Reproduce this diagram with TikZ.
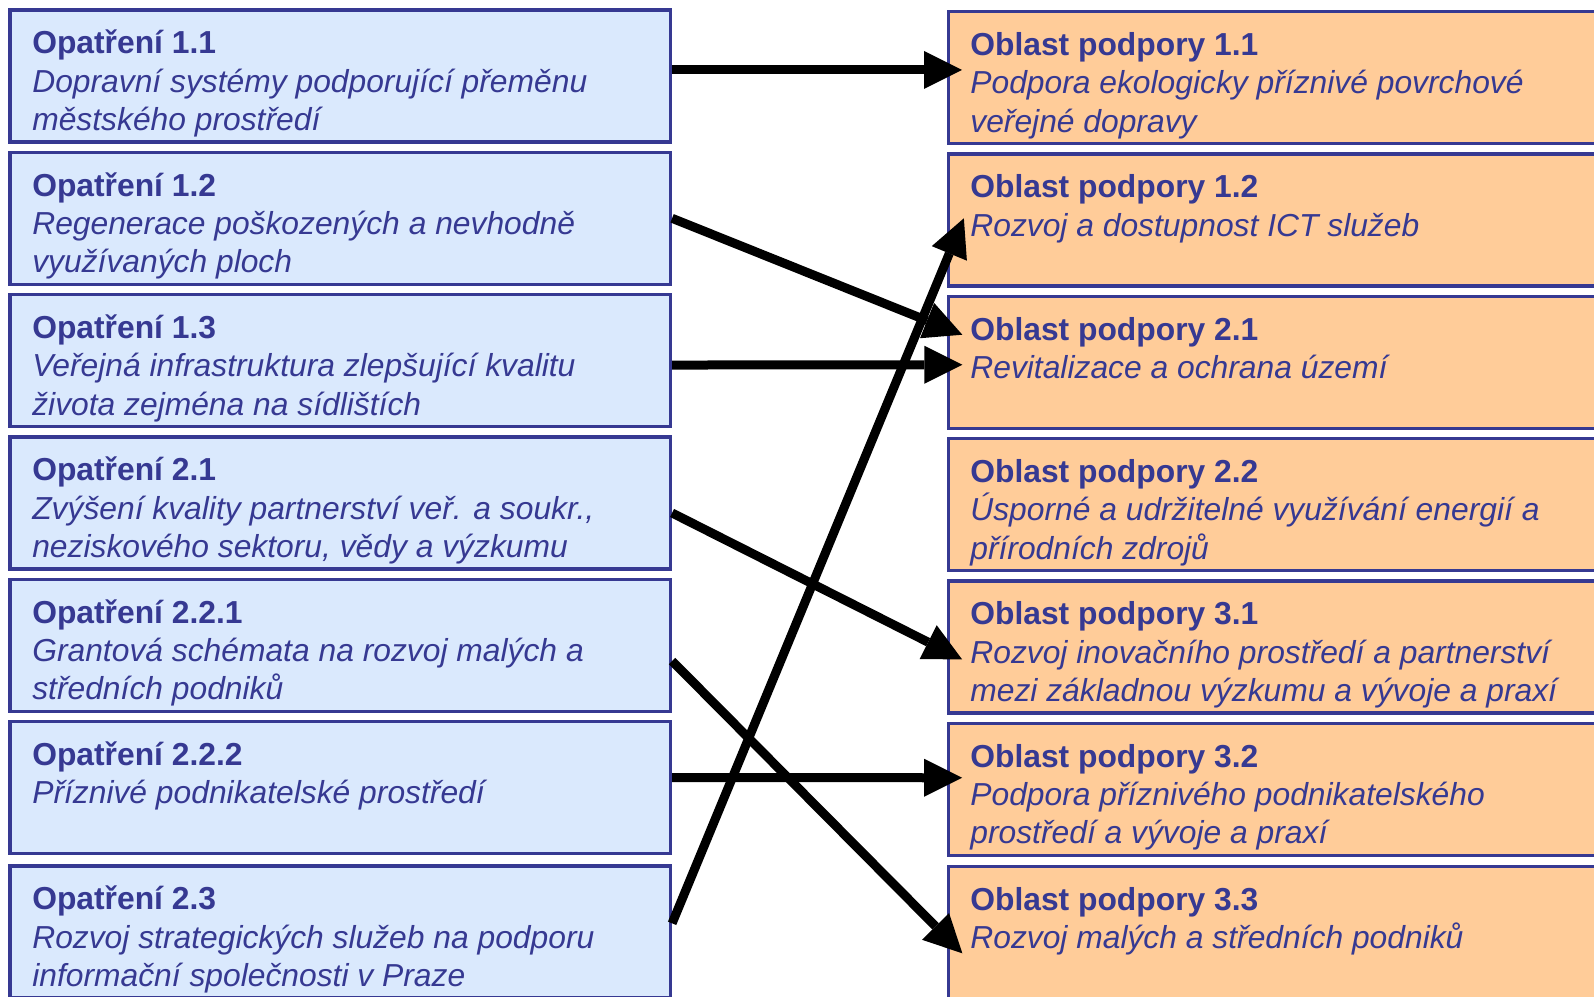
\documentclass[tikz,border=0pt]{standalone}
\usepackage{fontspec}
\setmainfont{Liberation Sans}
\usetikzlibrary{arrows.meta,calc}
\definecolor{ink}{HTML}{363992}
\definecolor{lfill}{HTML}{DAE9FD}
\definecolor{rfill}{HTML}{FFCC99}
\newcommand\bxtext[3]{\parbox[c][132pt][t]{660.6pt}{\fontsize{31.8}{38.3}\selectfont\raggedright\leftskip=22.3pt\relax
\rule{0pt}{43.8pt}\textbf{#1}\\\textit{#2}#3}}
\newcommand\bxr[3]{\parbox[c][132pt][t]{700pt}{\fontsize{31.8}{38.3}\selectfont\raggedright\leftskip=22pt\relax
\rule{0pt}{43.8pt}\textbf{#1}\\\textit{#2}#3}}
\tikzset{
  lbox/.style={draw=ink, fill=lfill, line width=3.3pt, inner sep=0pt, outer sep=0pt, anchor=north west, text=ink},
  rbox/.style={draw=ink, fill=rfill, line width=3.3pt, inner sep=0pt, outer sep=0pt, anchor=north west, text=ink},
  arr/.style={draw=black, line width=9pt, -{Triangle[length=38pt,width=38pt,line width=0pt]}}
}
\begin{document}
\begin{tikzpicture}[x=1pt,y=-1pt]
\path[use as bounding box] (0,0) rectangle (1594,996);
\clip (0,0) rectangle (1594,996);
% left column
\node[lbox] (l1) at (10,9.95) {\bxtext{Opatření 1.1}{Dopravní systémy podporující přeměnu}{\\\textit{městského prostředí}}};
\node[lbox] (l2) at (10,152.29) {\bxtext{Opatření 1.2}{Regenerace poškozených a nevhodně}{\\\textit{využívaných ploch}}};
\node[lbox] (l3) at (10,294.63) {\bxtext{Opatření 1.3}{Veřejná infrastruktura zlepšující kvalitu}{\\\textit{života zejména na sídlištích}}};
\node[lbox] (l4) at (10,436.97) {\bxtext{Opatření 2.1}{Zvýšení kvality partnerství veř. a soukr.,}{\\\textit{neziskového sektoru, vědy a výzkumu}}};
\node[lbox] (l5) at (10,579.31) {\bxtext{Opatření 2.2.1}{Grantová schémata na rozvoj malých a}{\\\textit{středních podniků}}};
\node[lbox] (l6) at (10,721.65) {\bxtext{Opatření 2.2.2}{Příznivé podnikatelské prostředí}{}};
\node[lbox] (l7) at (10,866) {\bxtext{Opatření 2.3}{Rozvoj strategických služeb na podporu}{\\\textit{informační společnosti v Praze}}};
% right column
\node[rbox] (r1) at (948.35,11.65) {\bxr{Oblast podpory 1.1}{Podpora ekologicky příznivé povrchové}{\\\textit{veřejné dopravy}}};
\node[rbox] (r2) at (948.35,153.99) {\bxr{Oblast podpory 1.2}{Rozvoj a dostupnost ICT služeb}{}};
\node[rbox] (r3) at (948.35,296.33) {\bxr{Oblast podpory 2.1}{Revitalizace a ochrana území}{}};
\node[rbox] (r4) at (948.35,438.67) {\bxr{Oblast podpory 2.2}{Úsporné a udržitelné využívání energií a}{\\\textit{přírodních zdrojů}}};
\node[rbox] (r5) at (948.35,581.01) {\bxr{Oblast podpory 3.1}{Rozvoj inovačního prostředí a partnerství}{\\\textit{mezi základnou výzkumu a vývoje a praxí}}};
\node[rbox] (r6) at (948.35,723.35) {\bxr{Oblast podpory 3.2}{Podpora příznivého podnikatelského}{\\\textit{prostředí a vývoje a praxí}}};
\node[rbox] (r7) at (948.35,866.65) {\bxr{Oblast podpory 3.3}{Rozvoj malých a středních podniků}{}};
% connectors
\draw[arr] ($(l1.east)+(1.5,-6)$) -- ($(r1.west)+(13.7,-7.7)$);
\draw[arr] ($(l2.east)+(1.5,0)$) -- ($(r3.west)+(14,-27.6)$);
\draw[arr] ($(l3.east)+(1.5,4.4)$) -- ($(r3.west)+(14,2.4)$);
\draw[arr] ($(l4.east)+(1.5,10)$) -- ($(r5.west)+(13.7,12.3)$);
\draw[arr] ($(l5.east)+(1.5,15.7)$) -- ($(r7.west)+(14,20.7)$);
\draw[arr] ($(l6.east)+(1.5,-10)$) -- ($(r6.west)+(13.7,-11.6)$);
\draw[arr] ($(l7.east)+(1.5,-8.7)$) -- ($(r2.west)+(15.5,-1.7)$);
\end{tikzpicture}
\end{document}
